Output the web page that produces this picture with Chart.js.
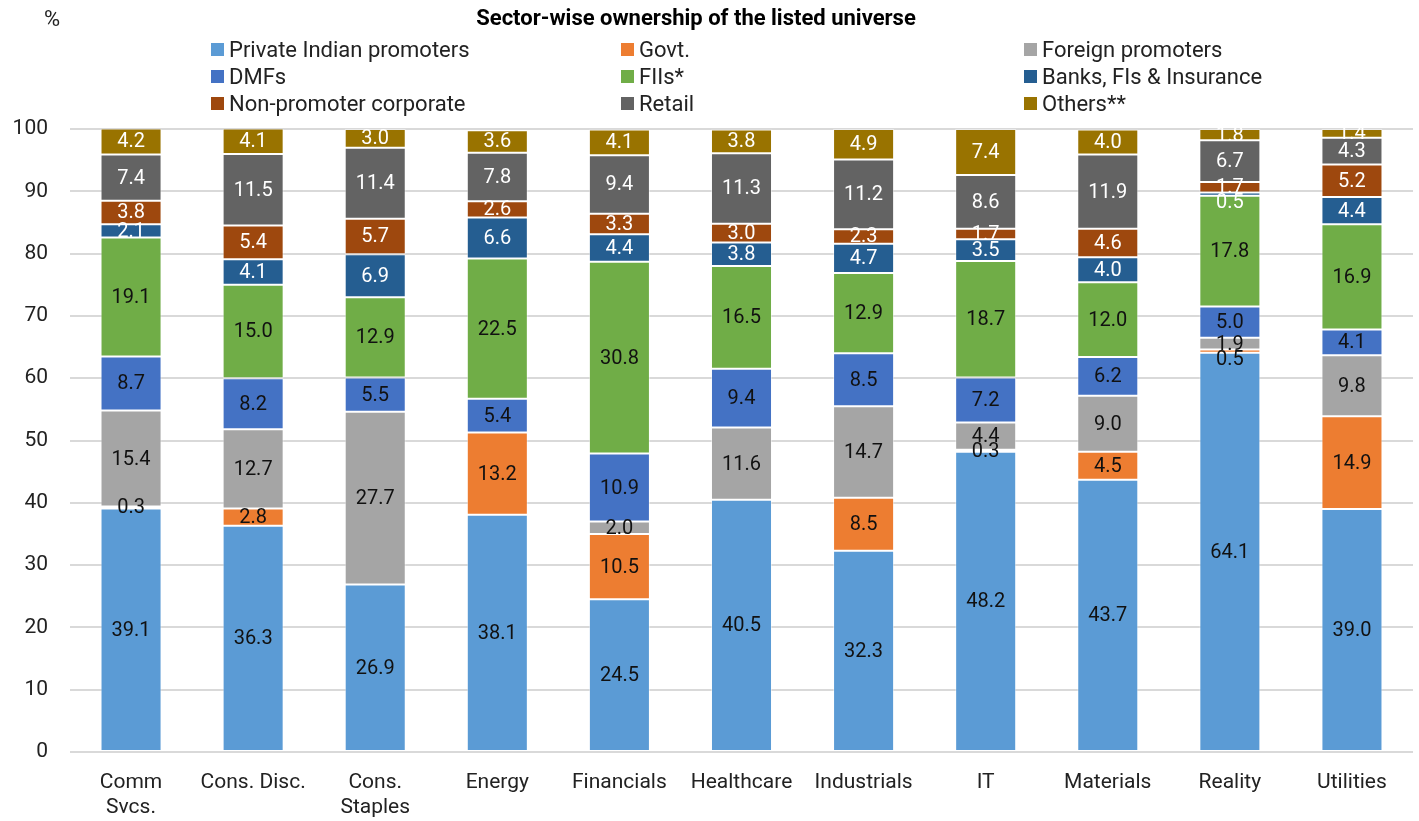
<!DOCTYPE html>
<html>
<head>
<meta charset="utf-8">
<title>Sector-wise ownership</title>
<script src="https://cdn.jsdelivr.net/npm/chart.js@4.4.1/dist/chart.umd.min.js"></script>
<style>
  html, body { margin: 0; padding: 0; background: #fff; }
  #wrap { width: 1419px; height: 821px; position: relative; }
</style>
</head>
<body>
<div id="wrap"><canvas id="ownChart" width="1419" height="821"></canvas></div>
<script>
const sectors = [['Comm', 'Svcs.'], 'Cons. Disc.', ['Cons.', 'Staples'], 'Energy', 'Financials',
  'Healthcare', 'Industrials', 'IT', 'Materials', 'Reality', 'Utilities'];

// shareholding by owner type, % of market cap
const privateIndian = [39.1, 36.3, 26.9, 38.1, 24.5, 40.5, 32.3, 48.2, 43.7, 64.1, 39.0];
const govt          = [0.3, 2.8, 0, 13.2, 10.5, 0, 8.5, 0.3, 4.5, 0.5, 14.9];
const foreignProm   = [15.4, 12.7, 27.7, 0, 2.0, 11.6, 14.7, 4.4, 9.0, 1.9, 9.8];
const dmfs          = [8.7, 8.2, 5.5, 5.4, 10.9, 9.4, 8.5, 7.2, 6.2, 5.0, 4.1];
const fiis          = [19.1, 15.0, 12.9, 22.5, 30.8, 16.5, 12.9, 18.7, 12.0, 17.8, 16.9];
const banksIns      = [2.1, 4.1, 6.9, 6.6, 4.4, 3.8, 4.7, 3.5, 4.0, 0.5, 4.4];
const nonPromCorp   = [3.8, 5.4, 5.7, 2.6, 3.3, 3.0, 2.3, 1.7, 4.6, 1.7, 5.2];
const retail        = [7.4, 11.5, 11.4, 7.8, 9.4, 11.3, 11.2, 8.6, 11.9, 6.7, 4.3];
const others        = [4.2, 4.1, 3.0, 3.6, 4.1, 3.8, 4.9, 7.4, 4.0, 1.8, 1.4];

const yTicks = [0, 10, 20, 30, 40, 50, 60, 70, 80, 90, 100];

const FONT = 'Roboto, "Noto Sans", sans-serif';

function series(label, data, color, textColor) {
  return {
    label: label,
    data: data,
    backgroundColor: color,
    borderColor: 'rgba(255,255,255,0.45)',
    borderWidth: 1,
    borderSkipped: false,
    textColor: textColor
  };
}

const datasets = [
  series('Private Indian promoters', privateIndian, '#5b9bd5', '#111'),
  series('Govt.', govt, '#ed7d31', '#111'),
  series('Foreign promoters', foreignProm, '#a5a5a5', '#111'),
  series('DMFs', dmfs, '#4472c4', '#111'),
  series('FIIs*', fiis, '#70ad47', '#111'),
  series('Banks, FIs & Insurance', banksIns, '#255e91', '#fff'),
  series('Non-promoter corporate', nonPromCorp, '#9e480e', '#fff'),
  series('Retail', retail, '#636363', '#fff'),
  series('Others**', others, '#997300', '#fff')
];

// title, "%" unit and the 3-column legend live in the top padding
const headerPlugin = {
  id: 'header',
  afterDraw(chart) {
    const ctx = chart.ctx;
    ctx.save();
    ctx.textBaseline = 'middle';
    ctx.fillStyle = '#000';
    ctx.font = 'bold 22px ' + FONT;
    ctx.textAlign = 'center';
    ctx.fillText('Sector-wise ownership of the listed universe', 696, 19);
    ctx.font = '22px ' + FONT;
    ctx.fillStyle = '#222';
    ctx.fillText('%', 52, 20);

    const colX = [211, 621, 1024];
    const rowY = [49, 76, 103];
    ctx.textAlign = 'left';
    chart.data.datasets.forEach(function (ds, i) {
      const x = colX[i % 3];
      const y = rowY[Math.floor(i / 3)];
      ctx.fillStyle = ds.backgroundColor;
      ctx.fillRect(x, y - 6, 13, 13);
      ctx.fillStyle = '#222';
      ctx.fillText(ds.label, x + 18, y + 2);
    });
    ctx.restore();
  }
};

// value labels in the middle of each segment; thin segments whose label
// would collide with the one above get nudged down a little
const segmentLabels = {
  id: 'segmentLabels',
  afterDatasetsDraw(chart) {
    const ctx = chart.ctx;
    const minGap = 15;
    ctx.save();
    ctx.font = '20px ' + FONT;
    ctx.textAlign = 'center';
    ctx.textBaseline = 'middle';
    const n = chart.data.labels.length;
    for (let j = 0; j < n; j++) {
      let prevY = -Infinity;
      for (let i = chart.data.datasets.length - 1; i >= 0; i--) {
        const ds = chart.data.datasets[i];
        const v = ds.data[j];
        if (!v) continue;
        const bar = chart.getDatasetMeta(i).data[j];
        let y = (bar.y + bar.base) / 2 + 1;
        if (y - prevY < minGap) y = prevY + minGap;
        prevY = y;
        ctx.fillStyle = ds.textColor;
        ctx.fillText(v.toFixed(1), bar.x, y);
      }
    }
    ctx.restore();
  }
};

const ctx = document.getElementById('ownChart');
const ownChart = new Chart(ctx, {
  type: 'bar',
  data: { labels: sectors, datasets: datasets },
  options: {
    responsive: false,
    animation: false,
    layout: { padding: { top: 129, right: 6, left: 0, bottom: 0 } },
    plugins: {
      legend: { display: false },
      title: { display: false },
      tooltip: { enabled: false }
    },
    datasets: {
      bar: { categoryPercentage: 1.0, barPercentage: 0.5 }
    },
    scales: {
      x: {
        stacked: true,
        grid: { display: false },
        border: { display: false },
        ticks: { color: '#222', font: { family: FONT, size: 21 }, padding: 10, maxRotation: 0 },
        afterFit(scale) { scale.height = 69; }
      },
      y: {
        stacked: true,
        min: 0,
        max: 100,
        afterBuildTicks(scale) { scale.ticks = yTicks.map(function (v) { return { value: v }; }); },
        grid: { color: '#d9d9d9', lineWidth: 2, drawTicks: false },
        border: { display: false },
        ticks: { color: '#222', font: { family: FONT, size: 21 }, padding: 22 },
        afterFit(scale) { scale.width = 70; }
      }
    }
  },
  plugins: [headerPlugin, segmentLabels]
});
</script>
</body>
</html>
